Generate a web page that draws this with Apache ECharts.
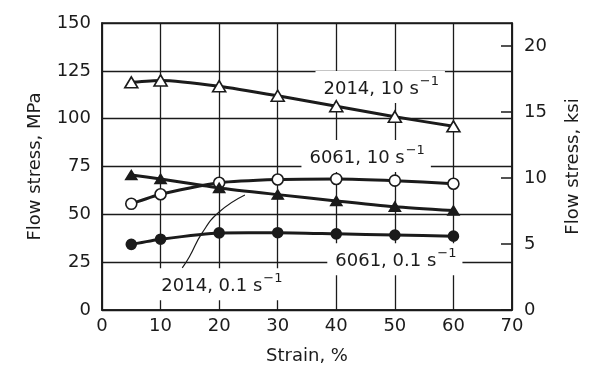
<!DOCTYPE html>
<html>
<head>
<meta charset="utf-8">
<script src="https://cdn.jsdelivr.net/npm/echarts@6/dist/echarts.min.js"></script>
<style>html,body{margin:0;padding:0;background:#fff;}#c{width:590px;height:374px;}</style>
</head>
<body>
<div id="c"></div>
<script>
// Strain (%) values
var strain = [5, 10, 20, 30, 40, 50, 60];
// Flow stress (MPa)
var s2014_10 = [119, 120, 117, 112, 106.5, 101, 96];
var s6061_10 = [55.5, 60.5, 66.5, 68.2, 68.5, 67.6, 66];
var s2014_01 = [70.5, 68.5, 63.8, 60.3, 57, 54, 52];
var s6061_01 = [34.3, 37, 40.3, 40.4, 39.8, 39.2, 38.6];
// Curve labels and their anchor (strain, stress)
var labelNames = ['2014, 10 s', '6061, 10 s', '6061, 0.1 s', '2014, 0.1 s'];
var labelAt = [[47.5, 116.5], [45.1, 80.5], [50.0, 26.5], [20.3, 13.5]];
// Leader curve from "2014, 0.1" label to its line
var leader = [[13.7, 22.0], [14.9, 27.7], [17.1, 40.3], [20.0, 51.2], [24.4, 60.1]];
// Tick labels
var mpaTicks = [0, 25, 50, 75, 100, 125, 150];
var ksiTicks = [0, 5, 10, 15, 20];
var MPA_PER_KSI = 6.894757;

var ink = '#1b1b1b';
var font = 'DejaVu Sans';

function pairs(ys) { return strain.map(function (x, i) { return [x, ys[i]]; }); }

function curve(name, ys, symbol, filled, size) {
  return {
    name: name, type: 'line', data: pairs(ys), smooth: 0.2,
    symbol: symbol, symbolSize: size, showSymbol: true,
    lineStyle: { color: ink, width: 3 },
    itemStyle: { color: filled ? ink : '#fff', borderColor: ink, borderWidth: 1.6 },
    z: 5, silent: true
  };
}

var chart = echarts.init(document.getElementById('c'), null, { renderer: 'canvas' });
chart.setOption({
  backgroundColor: '#fff',
  animation: false,
  textStyle: { fontFamily: font },
  grid: { left: 102, right: 75, top: 23, bottom: 64, show: true, borderColor: ink, borderWidth: 1.6, backgroundColor: 'transparent' },
  xAxis: {
    type: 'value', min: 0, max: 70, interval: 10,
    name: 'Strain, %', nameLocation: 'middle', nameGap: 37,
    nameTextStyle: { fontFamily: font, fontSize: 18, color: ink },
    axisLine: { show: true, lineStyle: { color: ink, width: 1.6 } },
    axisTick: { show: false },
    axisLabel: { fontFamily: font, fontSize: 18, color: ink, margin: 7 },
    splitLine: { show: true, lineStyle: { color: ink, width: 1.3 } }
  },
  yAxis: [{
    type: 'value', min: 0, max: 150, interval: 25, position: 'left',
    name: 'Flow stress, MPa', nameLocation: 'middle', nameGap: 58, nameRotate: 90,
    nameTextStyle: { fontFamily: font, fontSize: 18, color: ink },
    axisLine: { show: true, lineStyle: { color: ink, width: 1.6 } },
    axisTick: { show: false },
    axisLabel: { fontFamily: font, fontSize: 18, color: ink, margin: 11,
      formatter: function (v) { return mpaTicks.indexOf(v) >= 0 ? String(v) : ''; } },
    splitLine: { show: true, lineStyle: { color: ink, width: 1.3 } }
  }, {
    type: 'value', min: 0, max: 150 / MPA_PER_KSI, interval: 5, position: 'right',
    name: 'Flow stress, ksi', nameLocation: 'middle', nameGap: 52, nameRotate: 90,
    nameTextStyle: { fontFamily: font, fontSize: 18, color: ink },
    axisLine: { show: true, lineStyle: { color: ink, width: 1.6 } },
    axisTick: { show: true, inside: true, length: 11, lineStyle: { color: ink, width: 1.5 } },
    axisLabel: { fontFamily: font, fontSize: 18, color: ink, margin: 12, showMaxLabel: false,
      formatter: function (v) { return ksiTicks.indexOf(v) >= 0 ? String(v) : ''; } },
    splitLine: { show: false }
  }],
  series: [
    curve('2014, 10 s-1', s2014_10, 'triangle', false, [13, 11]),
    curve('6061, 10 s-1', s6061_10, 'circle', false, 11),
    curve('2014, 0.1 s-1', s2014_01, 'triangle', true, [11, 9]),
    curve('6061, 0.1 s-1', s6061_01, 'circle', true, 10),
    {
      name: 'leader', type: 'line', data: leader, smooth: true, symbol: 'none',
      lineStyle: { color: ink, width: 1.2 }, z: 4, silent: true
    },
    {
      name: 'labels', type: 'scatter', symbolSize: 0, z: 3, silent: true,
      itemStyle: { color: 'transparent', borderWidth: 0, opacity: 1 },
      data: labelAt.map(function (p, i) { return { value: p, name: labelNames[i] }; }),
      label: {
        show: true, position: 'inside', color: ink, textBorderWidth: 0, opacity: 1,
        formatter: function (p) { return '{m|' + p.name + '}{s|\u22121}'; },
        backgroundColor: '#fff', borderWidth: 0, padding: [3, 6, 3, 8],
        rich: {
          m: { fontFamily: font, fontSize: 18, color: ink, textBorderWidth: 0, lineHeight: 26, verticalAlign: 'bottom', padding: [0, 0, 2, 0] },
          s: { fontFamily: font, fontSize: 13, color: ink, textBorderWidth: 0, lineHeight: 26, verticalAlign: 'top', padding: [1, 0, 0, 1] }
        }
      },
      emphasis: { disabled: true }
    }
  ]
});
</script>
</body>
</html>
